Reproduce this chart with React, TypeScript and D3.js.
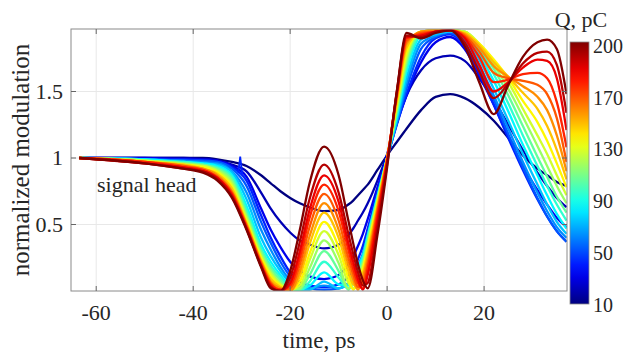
import React from "react";
import * as d3 from "d3";

// time grid, ps
const timePs = [-63.5, -50, -42, -38, -35, -32, -29, -26, -24, -22, -20, -18, -16, -13, -10, -8, -7, -6, -5, -4, -2, 0, 2, 4, 7, 10, 13, 16, 19, 22, 25, 28, 31, 33, 35, 37];

// normalized modulation per bunch charge (pC)
const q10 = [1.0, 1.0, 1.0, 1.0, 0.99, 0.97, 0.94, 0.87, 0.81, 0.75, 0.7, 0.66, 0.63, 0.6, 0.61, 0.65, 0.68, 0.72, 0.76, 0.8, 0.91, 1.02, 1.12, 1.22, 1.36, 1.46, 1.48, 1.45, 1.38, 1.28, 1.15, 1.02, 0.92, 0.87, 0.82, 0.79];
const q20 = [1.0, 1.0, 1.0, 0.99, 0.98, 0.95, 0.9, 0.74, 0.62, 0.52, 0.44, 0.38, 0.35, 0.32, 0.35, 0.42, 0.47, 0.53, 0.59, 0.66, 0.83, 1.03, 1.28, 1.47, 1.66, 1.75, 1.77, 1.73, 1.6, 1.44, 1.25, 1.06, 0.89, 0.79, 0.7, 0.63];
const q30 = [1.0, 1.0, 0.99, 0.99, 0.98, 0.94, 0.86, 0.62, 0.46, 0.33, 0.22, 0.15, 0.11, 0.09, 0.12, 0.2, 0.26, 0.34, 0.43, 0.54, 0.78, 1.01, 1.26, 1.47, 1.72, 1.87, 1.91, 1.82, 1.62, 1.4, 1.16, 0.94, 0.76, 0.65, 0.55, 0.48];
const q40 = [1.0, 0.99, 0.99, 0.98, 0.97, 0.93, 0.83, 0.57, 0.4, 0.26, 0.14, 0.07, 0.04, 0.03, 0.05, 0.11, 0.16, 0.24, 0.34, 0.47, 0.75, 1.0, 1.25, 1.48, 1.76, 1.9, 1.93, 1.84, 1.64, 1.4, 1.15, 0.91, 0.69, 0.56, 0.45, 0.37];
const q50 = [1.0, 0.99, 0.98, 0.98, 0.97, 0.92, 0.79, 0.52, 0.36, 0.22, 0.11, 0.04, 0.02, 0.01, 0.02, 0.06, 0.11, 0.19, 0.28, 0.43, 0.72, 1.0, 1.26, 1.52, 1.82, 1.91, 1.94, 1.86, 1.67, 1.44, 1.18, 0.93, 0.7, 0.56, 0.45, 0.37];
const q60 = [1.0, 0.99, 0.98, 0.97, 0.96, 0.9, 0.74, 0.46, 0.31, 0.18, 0.08, 0.02, 0.02, 0.04, 0.02, 0.06, 0.11, 0.18, 0.26, 0.41, 0.71, 1.0, 1.27, 1.56, 1.86, 1.92, 1.95, 1.89, 1.7, 1.47, 1.22, 0.97, 0.74, 0.6, 0.48, 0.4];
const q70 = [1.0, 0.99, 0.97, 0.96, 0.95, 0.89, 0.69, 0.4, 0.26, 0.15, 0.06, 0.01, 0.01, 0.07, 0.02, 0.06, 0.12, 0.19, 0.27, 0.42, 0.71, 1.0, 1.29, 1.6, 1.89, 1.93, 1.95, 1.91, 1.74, 1.52, 1.28, 1.03, 0.8, 0.65, 0.52, 0.43];
const q80 = [1.0, 0.99, 0.97, 0.96, 0.94, 0.87, 0.64, 0.35, 0.22, 0.12, 0.04, 0.01, 0.04, 0.14, 0.05, 0.04, 0.11, 0.18, 0.26, 0.41, 0.7, 1.0, 1.31, 1.65, 1.92, 1.95, 1.96, 1.93, 1.78, 1.58, 1.35, 1.1, 0.87, 0.72, 0.58, 0.47];
const q90 = [1.0, 0.98, 0.97, 0.95, 0.93, 0.86, 0.61, 0.32, 0.19, 0.1, 0.03, 0.0, 0.07, 0.22, 0.1, 0.02, 0.09, 0.16, 0.24, 0.4, 0.7, 1.0, 1.33, 1.68, 1.93, 1.96, 1.96, 1.94, 1.82, 1.63, 1.41, 1.17, 0.94, 0.79, 0.65, 0.53];
const q100 = [1.0, 0.98, 0.96, 0.95, 0.92, 0.84, 0.58, 0.3, 0.17, 0.08, 0.02, 0.01, 0.12, 0.3, 0.15, 0.01, 0.07, 0.14, 0.22, 0.38, 0.69, 1.0, 1.35, 1.71, 1.94, 1.96, 1.96, 1.95, 1.84, 1.67, 1.47, 1.24, 1.01, 0.86, 0.71, 0.59];
const q110 = [1.0, 0.98, 0.96, 0.94, 0.91, 0.82, 0.56, 0.28, 0.15, 0.06, 0.01, 0.02, 0.17, 0.38, 0.21, 0.02, 0.05, 0.12, 0.2, 0.36, 0.68, 1.0, 1.37, 1.74, 1.95, 1.96, 1.96, 1.95, 1.85, 1.7, 1.52, 1.31, 1.09, 0.94, 0.79, 0.66];
const q120 = [1.0, 0.98, 0.95, 0.94, 0.9, 0.8, 0.54, 0.26, 0.13, 0.05, 0.01, 0.04, 0.23, 0.45, 0.27, 0.06, 0.02, 0.09, 0.18, 0.34, 0.67, 1.0, 1.39, 1.77, 1.95, 1.96, 1.96, 1.95, 1.86, 1.73, 1.57, 1.37, 1.17, 1.03, 0.87, 0.72];
const q130 = [1.0, 0.97, 0.95, 0.93, 0.89, 0.78, 0.52, 0.25, 0.11, 0.04, 0.01, 0.07, 0.28, 0.52, 0.33, 0.1, 0.01, 0.06, 0.16, 0.32, 0.66, 1.0, 1.41, 1.8, 1.95, 1.96, 1.96, 1.94, 1.86, 1.74, 1.6, 1.43, 1.27, 1.13, 0.96, 0.78];
const q140 = [1.0, 0.97, 0.95, 0.92, 0.88, 0.77, 0.51, 0.23, 0.09, 0.03, 0.0, 0.11, 0.35, 0.59, 0.4, 0.15, 0.05, 0.03, 0.13, 0.29, 0.64, 1.0, 1.43, 1.83, 1.95, 1.96, 1.96, 1.94, 1.85, 1.72, 1.61, 1.49, 1.37, 1.24, 1.06, 0.84];
const q150 = [1.0, 0.97, 0.94, 0.92, 0.87, 0.75, 0.5, 0.22, 0.07, 0.02, 0.0, 0.15, 0.41, 0.66, 0.46, 0.2, 0.09, 0.01, 0.1, 0.25, 0.62, 1.0, 1.45, 1.86, 1.95, 1.96, 1.96, 1.93, 1.83, 1.69, 1.61, 1.54, 1.46, 1.36, 1.17, 0.9];
const q160 = [1.0, 0.97, 0.94, 0.91, 0.86, 0.74, 0.49, 0.21, 0.06, 0.01, 0.02, 0.2, 0.48, 0.73, 0.53, 0.25, 0.13, 0.03, 0.06, 0.21, 0.6, 0.99, 1.47, 1.88, 1.94, 1.95, 1.96, 1.92, 1.8, 1.64, 1.6, 1.58, 1.55, 1.48, 1.3, 0.97];
const q170 = [1.0, 0.97, 0.93, 0.91, 0.85, 0.73, 0.48, 0.2, 0.05, 0.01, 0.04, 0.25, 0.55, 0.8, 0.6, 0.31, 0.17, 0.06, 0.02, 0.17, 0.57, 0.98, 1.48, 1.9, 1.93, 1.95, 1.96, 1.91, 1.76, 1.57, 1.59, 1.63, 1.64, 1.6, 1.42, 1.08];
const q180 = [1.0, 0.96, 0.93, 0.9, 0.85, 0.72, 0.47, 0.19, 0.04, 0.0, 0.06, 0.3, 0.61, 0.87, 0.67, 0.36, 0.22, 0.09, 0.01, 0.12, 0.53, 0.97, 1.49, 1.91, 1.92, 1.95, 1.96, 1.9, 1.7, 1.5, 1.57, 1.68, 1.74, 1.73, 1.6, 1.21];
const q190 = [1.0, 0.96, 0.92, 0.9, 0.84, 0.71, 0.47, 0.19, 0.03, 0.0, 0.1, 0.37, 0.69, 0.95, 0.74, 0.43, 0.28, 0.14, 0.04, 0.06, 0.48, 0.95, 1.5, 1.92, 1.91, 1.95, 1.96, 1.87, 1.65, 1.45, 1.56, 1.71, 1.79, 1.8, 1.7, 1.34];
const q200 = [1.0, 0.96, 0.92, 0.89, 0.83, 0.7, 0.46, 0.18, 0.02, 0.0, 0.15, 0.46, 0.81, 1.085, 0.87, 0.53, 0.36, 0.2, 0.08, 0.02, 0.42, 0.93, 1.5, 1.94, 1.9, 1.94, 1.96, 1.84, 1.57, 1.33, 1.55, 1.76, 1.87, 1.89, 1.82, 1.48];

const charges = [10, 20, 30, 40, 50, 60, 70, 80, 90, 100, 110, 120, 130, 140, 150, 160, 170, 180, 190, 200];
const curves = [q10, q20, q30, q40, q50, q60, q70, q80, q90, q100, q110, q120, q130, q140, q150, q160, q170, q180, q190, q200];

// short glitch in the 40 pC trace near -30 ps
const glitchT = [-30.7, -30.3, -29.9];
const glitchV = [0.89, 1.01, 0.88];

const xTicks = [-60, -40, -20, 0, 20];
const yTicks = [0.5, 1, 1.5];
const cbarLabels = ["200", "170", "130", "90", "50", "10"];

const FONT = "'Liberation Serif', 'Times New Roman', serif";
const TXT = "#262626";

export default function App() {
  const left = 71, right = 567, top = 29, bottom = 291;
  const x = d3.scaleLinear().domain([-65.2, 37.1]).range([left, right]);
  const y = d3.scaleLinear().domain([0, 1.97]).range([bottom, top]);

  // MATLAB-style jet colormap
  const jet = d3
    .scaleLinear<string>()
    .domain([0, 0.125, 0.375, 0.625, 0.875, 1])
    .range(["#000080", "#0000ff", "#00ffff", "#ffff00", "#ff0000", "#800000"]);
  const qScale = d3.scaleLinear().domain([10, 200]).range([0, 1]);

  const line = d3
    .line<number>()
    .x((_, i) => x(timePs[i]))
    .y(d => y(d))
    .curve(d3.curveMonotoneX);

  const glitchLine = d3
    .line<number>()
    .x((_, i) => x(glitchT[i]))
    .y(d => y(d));

  const cbX = 570, cbW = 19, cbTop = 42, cbBottom = 304;
  const cbLabelY = d3.scalePoint<string>().domain(cbarLabels).range([46, 305]);
  const stops = d3.range(0, 1.0001, 0.05);

  return (
    <svg width={630} height={352} style={{ position: "absolute", left: 0, top: 0 }} fontFamily={FONT}>
      <defs>
        <clipPath id="plot-clip">
          <rect x={left} y={top} width={right - left} height={bottom - top} />
        </clipPath>
        <linearGradient id="jet-grad" x1="0" y1="1" x2="0" y2="0">
          {stops.map(s => (
            <stop key={s} offset={s} stopColor={jet(s)} />
          ))}
        </linearGradient>
      </defs>
      <rect width={630} height={352} fill="#fff" />

      {/* grid */}
      {xTicks.map(t => (
        <line key={"gx" + t} x1={x(t)} x2={x(t)} y1={top} y2={bottom} stroke="#e8e8e8" strokeWidth={1} />
      ))}
      {yTicks.map(t => (
        <line key={"gy" + t} x1={left} x2={right} y1={y(t)} y2={y(t)} stroke="#e8e8e8" strokeWidth={1} />
      ))}

      {/* curves */}
      <g clipPath="url(#plot-clip)">
        {curves.map((c, i) => (
          <path
            key={charges[i]}
            d={line(c) || ""}
            fill="none"
            stroke={jet(qScale(charges[i]))}
            strokeWidth={2.3}
            strokeLinejoin="round"
          />
        ))}
        <path d={glitchLine(glitchV) || ""} fill="none" stroke={jet(qScale(40))} strokeWidth={1.8} />
      </g>

      {/* axes box */}
      <rect x={left} y={top} width={right - left} height={bottom - top} fill="none" stroke="#8a8a8a" strokeWidth={1} />
      {xTicks.map(t => (
        <g key={"tx" + t}>
          <line x1={x(t)} x2={x(t)} y1={bottom} y2={bottom - 5} stroke="#666" />
          <line x1={x(t)} x2={x(t)} y1={top} y2={top + 5} stroke="#666" />
          <text x={x(t)} y={320} textAnchor="middle" fontSize={22} fill={TXT}>
            {t}
          </text>
        </g>
      ))}
      {yTicks.map(t => (
        <g key={"ty" + t}>
          <line x1={left} x2={left + 5} y1={y(t)} y2={y(t)} stroke="#666" />
          <line x1={right} x2={right - 5} y1={y(t)} y2={y(t)} stroke="#666" />
          <text x={63} y={y(t)} dy="0.34em" textAnchor="end" fontSize={22} fill={TXT}>
            {t}
          </text>
        </g>
      ))}

      <text x={(left + right) / 2} y={348} textAnchor="middle" fontSize={23} fill={TXT}>
        time, ps
      </text>
      <text
        transform={`translate(29, ${(top + bottom) / 2}) rotate(-90)`}
        textAnchor="middle"
        fontSize={25}
        fill={TXT}
      >
        normalized modulation
      </text>
      <text x={97} y={192} fontSize={22} fill={TXT}>
        signal head
      </text>

      {/* colorbar */}
      <rect x={cbX} y={cbTop} width={cbW} height={cbBottom - cbTop} fill="url(#jet-grad)" stroke="#8a8a8a" strokeWidth={0.8} />
      {cbarLabels.map(l => (
        <text key={l} x={593} y={cbLabelY(l)} dy="0.34em" fontSize={20} fill={TXT}>
          {l}
        </text>
      ))}
      <text x={581} y={27} textAnchor="middle" fontSize={22} fill={TXT}>
        Q, pC
      </text>
    </svg>
  );
}
